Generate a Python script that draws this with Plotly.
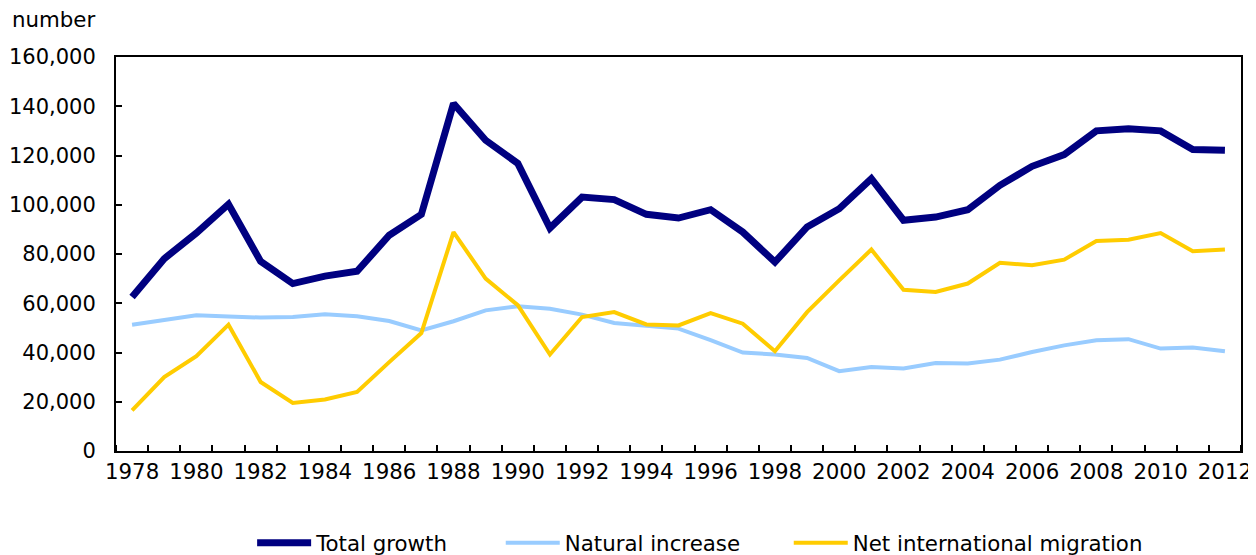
import plotly.graph_objects as go

years = list(range(1978, 2013))

total_growth = [62500, 78100, 88500, 100200, 77000, 68000, 71000, 73000, 87600, 96100,
                141100, 126200, 116800, 90500, 103100, 102100, 96100, 94600, 98000, 88900,
                76700, 91000, 98400, 110600, 93700, 95000, 98000, 107900, 115600, 120400,
                130000, 130900, 130000, 122400, 122100]

natural_increase = [51300, 53100, 55100, 54600, 54200, 54400, 55500, 54700, 52800, 49000,
                    52700, 57100, 58800, 57800, 55400, 52000, 50800, 49700, 45000, 40000,
                    39200, 37800, 32400, 34100, 33500, 35700, 35500, 37100, 40200, 42900,
                    45000, 45400, 41600, 42000, 40500]

net_international = [16500, 30000, 38500, 51300, 28000, 19500, 20900, 24000, 36100, 47900,
                     88900, 70000, 59200, 39200, 54400, 56400, 51400, 51000, 56000, 51700,
                     40500, 56400, 69300, 81800, 65500, 64600, 68000, 76400, 75400, 77700,
                     85300, 85800, 88500, 81100, 81800]

series_names = ["Total growth", "Natural increase", "Net international migration"]
y_tickvals = [0, 20000, 40000, 60000, 80000, 100000, 120000, 140000, 160000]
x_tickvals = list(range(1978, 2013, 2))

FONT = "DejaVu Sans"
FS = 21.33

fig = go.Figure()
fig.add_trace(go.Scatter(x=years, y=total_growth, mode="lines", name=series_names[0],
                         legend="legend", line=dict(color="#000080", width=7)))
fig.add_trace(go.Scatter(x=years, y=natural_increase, mode="lines", name=series_names[1],
                         legend="legend2", line=dict(color="#99CCFF", width=4)))
fig.add_trace(go.Scatter(x=years, y=net_international, mode="lines", name=series_names[2],
                         legend="legend3", line=dict(color="#FFCC00", width=4)))

leg_common = dict(orientation="h", xanchor="left", yref="container", y=0.022,
                  yanchor="middle", font=dict(family=FONT, size=FS),
                  bgcolor="rgba(0,0,0,0)", itemwidth=54)

fig.update_layout(
    width=1248, height=547,
    margin=dict(l=108, r=15, t=49, b=104, autoexpand=False),
    paper_bgcolor="white", plot_bgcolor="white",
    font=dict(family=FONT, size=FS, color="black"),
    showlegend=True,
    legend=dict(x=0.121, **leg_common),
    legend2=dict(x=0.342, **leg_common),
    legend3=dict(x=0.598, **leg_common),
    annotations=[dict(text="number", xref="paper", yref="paper",
                      x=-0.017, y=1.096, xanchor="right", yanchor="middle",
                      showarrow=False, font=dict(family=FONT, size=FS))],
)

fig.update_xaxes(
    range=[1977.5, 2012.5], tickvals=x_tickvals, ticktext=[str(v) for v in x_tickvals],
    ticks="", showgrid=False, zeroline=False, automargin=False,
    showline=True, linecolor="black", linewidth=2, mirror=True,
    ticklabelstandoff=0,
    minor=dict(tick0=1977.5, dtick=1, ticks="inside", ticklen=6, tickwidth=2,
               tickcolor="black", showgrid=False),
)
fig.update_yaxes(
    range=[0, 160000], tickvals=y_tickvals, tickformat=",",
    tickfont=dict(family=FONT, size=21),
    ticks="inside", ticklen=6, tickwidth=2, tickcolor="black",
    showgrid=False, zeroline=False, automargin=False,
    showline=True, linecolor="black", linewidth=2, mirror=True,
    ticklabelstandoff=14,
)

fig.write_html("out.html")
